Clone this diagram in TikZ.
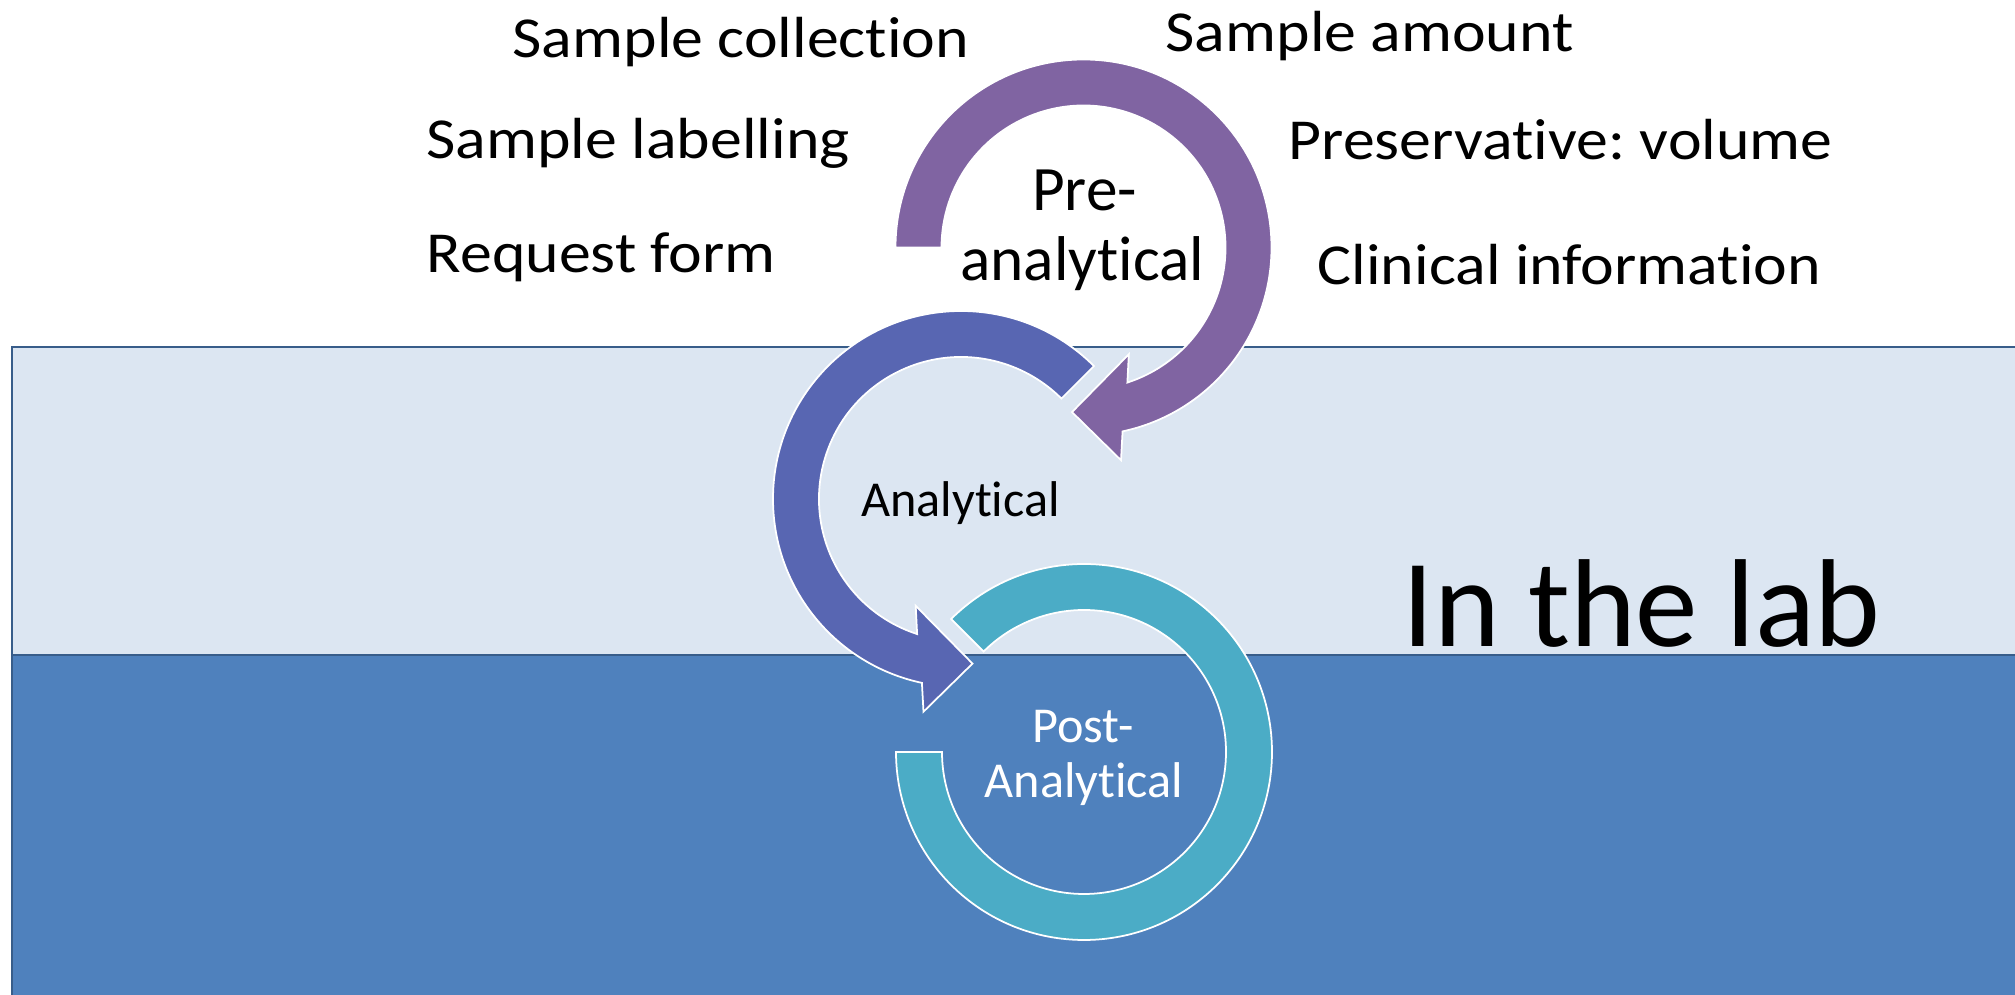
\documentclass[tikz,border=0pt]{standalone}
\usepackage{fontspec}
\setmainfont{Carlito}[Ligatures=NoCommon]
\newfontfamily\sidefont{Carlito}[Ligatures=NoCommon, FakeStretch=1.10]
\usetikzlibrary{calc}
\definecolor{prec}{HTML}{8064A2}
\definecolor{anac}{HTML}{5866B2}
\definecolor{postc}{HTML}{4BACC6}
\definecolor{bandlight}{HTML}{DCE6F2}
\definecolor{banddark}{HTML}{4F81BD}
\definecolor{bandline}{HTML}{385D8A}
\begin{document}
\frenchspacing
\begin{tikzpicture}[x=0.1mm,y=0.1mm,
  band/.style={draw=bandline, line width=0.6pt},
  ring/.style={draw=white, line width=0.5pt},
  lbl/.style={anchor=base west, inner sep=0pt, font=\sidefont\fontsize{16.5pt}{19pt}\selectfont},
  steplbl/.style={anchor=base, inner sep=0pt}]
\useasboundingbox (0,0) rectangle (2015,995);
\clip (0,0) rectangle (2015,995);
\fill[white] (0,0) rectangle (2015,995);
% bands
\path[band, fill=bandlight] (12,340) rectangle (2040,648);
\path[band, fill=banddark] (12,-20) rectangle (2040,340);
% centres
\coordinate (C1) at (1083.5,747.5);
\coordinate (C2) at (961,496);
\coordinate (C3) at (1084,243);
% pre-analytical arrow
\path[ring, fill=prec] ($(C1)+(180:188)$) arc[start angle=180, end angle=-78, radius=188]
  -- ($(C1)+(-80:216)$) -- ($(C1)+(-94:165)$) -- ($(C1)+(-67:116)$)
  -- ($(C1)+(-72:142)$) arc[start angle=-72, end angle=180, radius=142] -- cycle;
% analytical arrow
\path[ring, fill=anac] ($(C2)+(45:188)$) arc[start angle=45, end angle=258, radius=188]
  -- ($(C2)+(260:216)$) -- ($(C2)+(274:165)$) -- ($(C2)+(247:116)$)
  -- ($(C2)+(252:142)$) arc[start angle=252, end angle=45, radius=142] -- cycle;
% post-analytical arc
\path[ring, fill=postc] ($(C3)+(135:188)$) arc[start angle=135, end angle=-180, radius=188]
  -- ($(C3)+(180:142)$) arc[start angle=-180, end angle=135, radius=142] -- cycle;
% stage labels
\node[steplbl, font=\fontsize{18pt}{20pt}\selectfont] (pre1) at (1084.5,784) {Pre-};
\node[steplbl, font=\fontsize{18pt}{20pt}\selectfont] (pre2) at (1082.5,714) {analytical};
\node[steplbl, font=\fontsize{14.3pt}{18pt}\selectfont] (ana) at (960.5,478) {Analytical};
\node[steplbl, text=white, font=\fontsize{14.3pt}{16pt}\selectfont] (post1) at (1083,252) {Post-};
\node[steplbl, text=white, font=\fontsize{14.3pt}{16pt}\selectfont] (post2) at (1084,197) {Analytical};
% side labels
\node[lbl] (t1) at (512,937) {Sample collection};
\node[lbl] (t2) at (426,836) {Sample labelling};
\node[lbl] (t3) at (426,722) {Request form};
\node[lbl] (t4) at (1165,943) {Sample amount};
\node[lbl] (t5) at (1288,835) {Preservative: volume};
\node[lbl] (t6) at (1317,710) {Clinical information};
\node[anchor=base west, inner sep=0pt, font=\fontsize{35.6pt}{40pt}\selectfont] (lab) at (1402,348) {In the lab};
\end{tikzpicture}
\end{document}
